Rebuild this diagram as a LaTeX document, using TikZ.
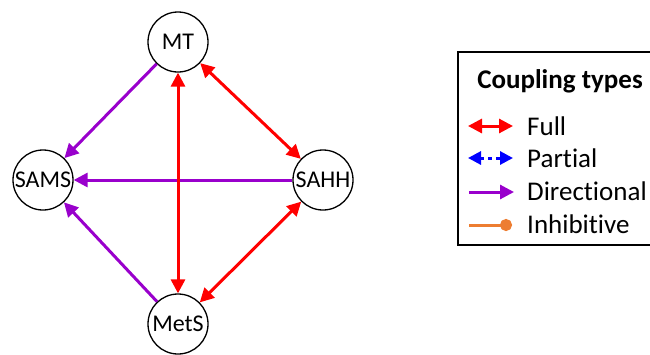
\documentclass[tikz,border=0pt]{standalone}
\usepackage{fontspec}
\setmainfont{Carlito}[Ligatures={NoCommon,NoRequired,NoContextual}]
\usetikzlibrary{arrows.meta}
\definecolor{fullred}{RGB}{255,0,0}
\definecolor{partblue}{RGB}{0,0,255}
\definecolor{dirpurple}{RGB}{153,0,204}
\definecolor{inhorange}{RGB}{237,125,49}
\tikzset{
  species/.style={draw=black, line width=1.3pt, circle, minimum size=60pt, inner sep=0pt, font=\fontsize{24}{26}\selectfont},
  full/.style={fullred, line width=3pt, {Triangle[length=14pt,width=14pt]}-{Triangle[length=14pt,width=14pt]}},
  partial/.style={partblue, line width=3pt, dash pattern=on 4pt off 4pt, {Triangle[length=13pt,width=13pt]}-{Triangle[length=13pt,width=13pt]}},
  directional/.style={dirpurple, line width=3pt, -{Triangle[length=14pt,width=14pt]}},
  inhibitive/.style={inhorange, line width=3pt, -{Circle[length=12pt]}},
  legtext/.style={anchor=west, inner sep=0pt, font=\fontsize{27}{29}\selectfont}
}
\begin{document}
\begin{tikzpicture}[x=1pt,y=-1pt]
\useasboundingbox (0,0) rectangle (650,354);
\clip (0,0) rectangle (650,354);
%
\node[species] (mt) at (178,42) {MT};
\node[species] (sams) at (43,180) {SAMS};
\node[species] (sahh) at (323,180) {SAHH};
\node[species] (mets) at (178,324) {MetS};
%
\draw[directional] (mt) -- (sams);
\draw[directional] (sahh) -- (sams);
\draw[directional] (mets) -- (sams);
\draw[full] (mt) -- (mets);
\draw[full] (mt) -- (sahh);
\draw[full] (sahh) -- (mets);
%
\draw[black, line width=1.3pt] (458,52) rectangle (660,245);
\node[font=\bfseries\fontsize{27}{29}\selectfont] (title) at (560,81) {Coupling types};
\node[legtext] (lfull) at (527,126) {Full};
\node[legtext] (lpart) at (527,158) {Partial};
\node[legtext] (ldir) at (527,191) {Directional};
\node[legtext] (linh) at (527,224) {Inhibitive};
\coordinate (fa) at (468,126); \coordinate (fb) at (513,126);
\coordinate (pa) at (468,158); \coordinate (pb) at (513,158);
\coordinate (da) at (469,192); \coordinate (db) at (514,192);
\coordinate (ia) at (469,225); \coordinate (ib) at (512,225);
\draw[full] (fa) -- (fb);
\draw[partial] (pa) -- (pb);
\draw[directional] (da) -- (db);
\draw[inhibitive] (ia) -- (ib);
%
\end{tikzpicture}
\end{document}
